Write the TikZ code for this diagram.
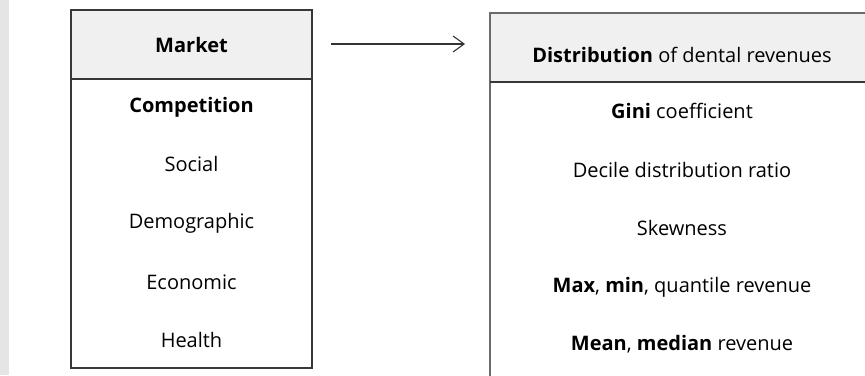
\documentclass[tikz,border=0pt]{standalone}
\usepackage{fontspec}
\setmainfont{Open Sans}
\usetikzlibrary{arrows.meta}

\tikzset{
  leftline/.style={draw=black!78, line width=1.1pt},
  rightline/.style={draw=black!58, line width=1.6pt},
  headfill/.style={fill=black!6},
  item/.style={font=\fontsize{20}{24}\selectfont, inner sep=0pt, anchor=center}
}

\begin{document}
\begin{tikzpicture}[x=1pt,y=-1pt]
        \useasboundingbox (0,0) rectangle (865,375);
        \clip (0,0) rectangle (865,375);

        % grey band at the left edge
        \fill[black!10] (0,0) rectangle (9,375);

        % draw left box
        \fill[headfill] (71,10) rectangle (312,79);
        \draw[leftline] (71,10) rectangle (312,368);
        \draw[leftline] (71,79) -- (312,79);

        % draw right box
        \fill[headfill] (490,13) rectangle (874,82);
        \draw[rightline] (490,13) rectangle (874,400);
        \draw[leftline] (490,82) -- (874,82);

        % draw left texts
        \node[item] (mkt) at (191.5,45) {\textbf{Market}};
        \node[item] (comp) at (191.5,107) {\textbf{Competition}};
        \node[item] (social) at (191.5,164) {Social};
        \node[item] (demo) at (191.5,223) {Demographic};
        \node[item] (econ) at (191.5,282) {Economic};
        \node[item] (health) at (191.5,340) {Health};

        % draw right texts
        \node[item] (dist) at (682,55) {\textbf{Distribution} of dental revenues};
        \node[item] (gini) at (682,111) {\textbf{Gini} coefficient};
        \node[item] (decile) at (682,170) {Decile distribution ratio};
        \node[item] (skew) at (682,228) {Skewness};
        \node[item] (maxmin) at (682,287) {\textbf{Max}, \textbf{min}, quantile revenue};
        \node[item] (mean) at (682,344) {\textbf{Mean}, \textbf{median} revenue};

        % draw arrow
        \coordinate (arrfrom) at (331,44);
        \coordinate (arrto) at (465,44);
        \draw[black!80, line width=1.1pt, -{Straight Barb[length=11pt,width=16pt,line width=1.1pt]}] (arrfrom) -- (arrto);
\end{tikzpicture}
\end{document}
